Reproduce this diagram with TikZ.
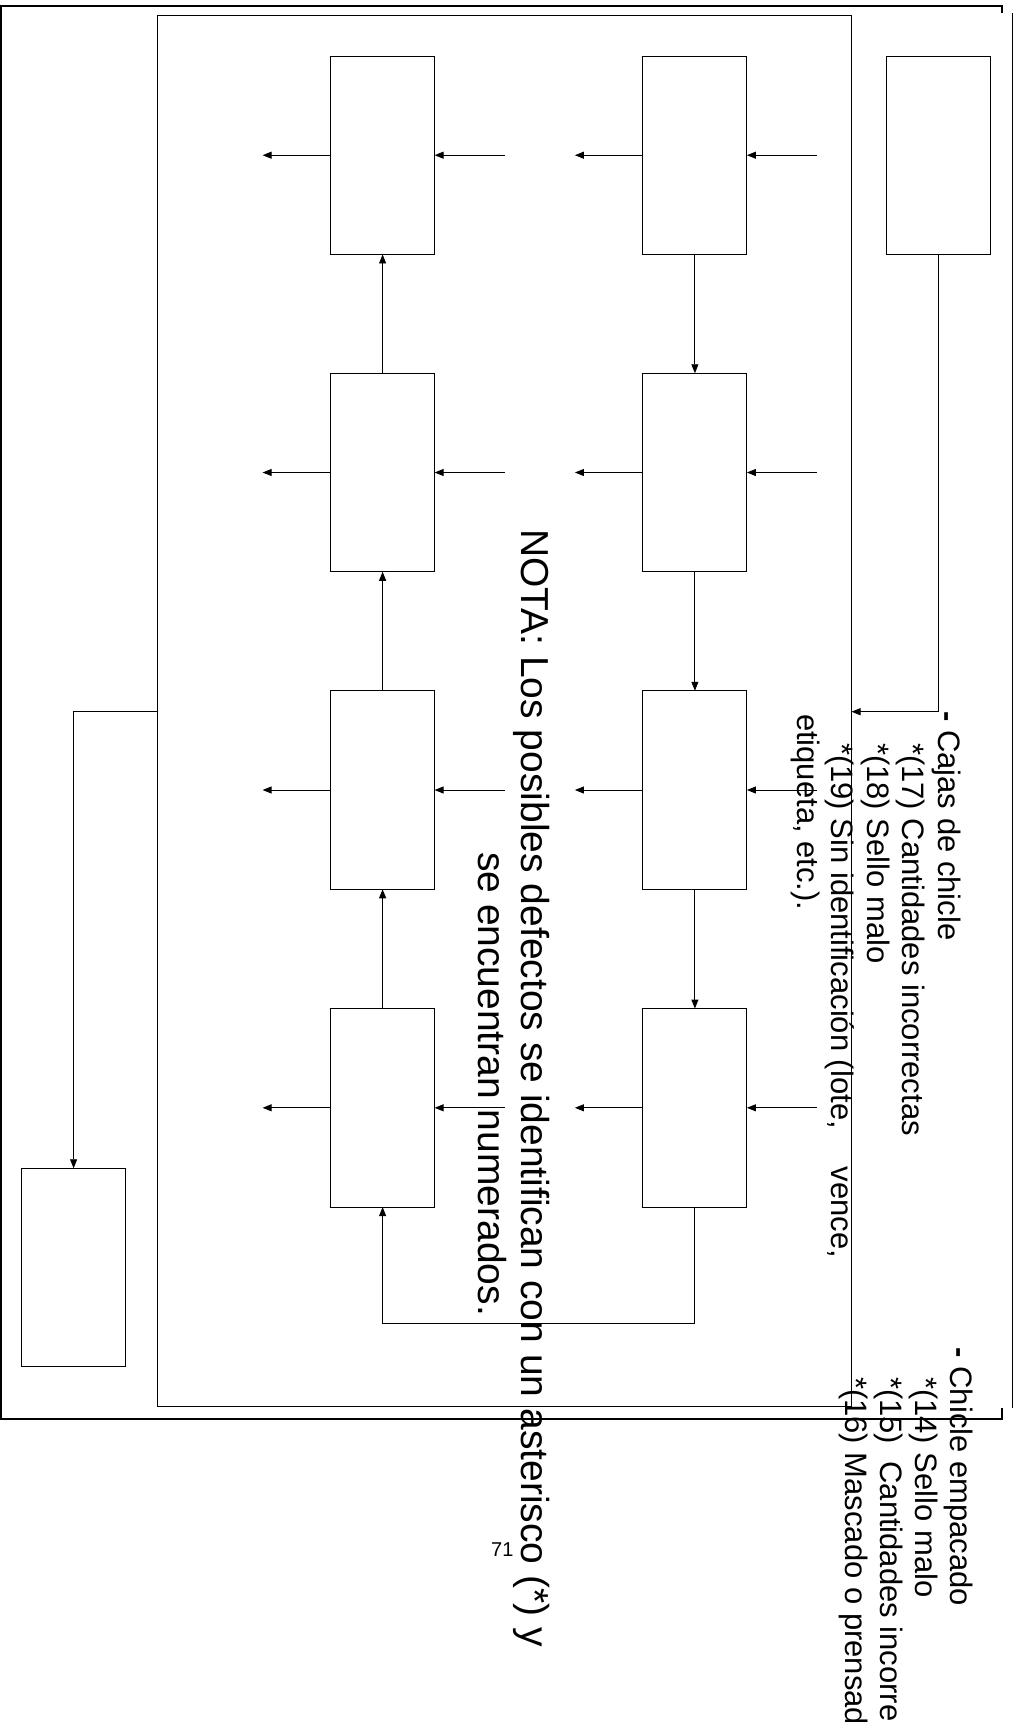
\documentclass[tikz,border=0pt]{standalone}
\usepackage{fontspec}
\setmainfont{Liberation Sans}
\usetikzlibrary{arrows.meta}
\begin{document}
\begin{tikzpicture}[x=1pt,y=-1pt,
  stage/.style={draw, line width=0.9pt, minimum width=104pt, minimum height=198.5pt,
    inner sep=0pt, outer sep=0pt},
  flow/.style={line width=0.9pt, -{Triangle[length=9pt,width=7pt]}},
  frameline/.style={line width=2pt},
  defect/.style={rotate=-90, anchor=base west, inner sep=0pt, outer sep=0pt,
    font=\fontsize{31}{35}\selectfont},
  nota/.style={rotate=-90, anchor=base, inner sep=0pt, outer sep=0pt,
    font=\fontsize{39}{45}\selectfont},
]
\useasboundingbox (0,0) rectangle (1018,1722);

% outer frame
\draw[frameline] (1002,13) -- (1002,5.5) -- (1,5.5) -- (1,1418.5) -- (1002,1418.5) -- (1002,1408);
\draw[line width=1pt] (1012,13) -- (1012,1408);

% plant area
\node[draw, line width=0.9pt, minimum width=693.9pt, minimum height=1391pt,
  inner sep=0pt, outer sep=0pt] (plant) at (504.5,711.2) {};

% process boxes: column A (upward flow), column B (downward flow)
\foreach \r/\yy in {1/155.2, 2/472.5, 3/790, 4/1107.8} {
  \node[stage] (A\r) at (382.6,\yy) {};
  \node[stage] (B\r) at (694.9,\yy) {};
  \coordinate (inA\r) at ([xshift=70pt]A\r.east);
  \coordinate (outA\r) at ([xshift=-68pt]A\r.west);
  \coordinate (inB\r) at ([xshift=70pt]B\r.east);
  \coordinate (outB\r) at ([xshift=-68pt]B\r.west);
  \draw[flow] (inA\r) -- (A\r.east);
  \draw[flow] (A\r.west) -- (outA\r);
  \draw[flow] (inB\r) -- (B\r.east);
  \draw[flow] (B\r.west) -- (outB\r);
}
\node[stage] (R) at (938.3,155.2) {};
\node[stage] (store) at (73.6,1267.5) {};

% vertical flow
\draw[flow] (B1.south) -- (B2.north);
\draw[flow] (B2.south) -- (B3.north);
\draw[flow] (B3.south) -- (B4.north);
\draw[flow] (A4.north) -- (A3.south);
\draw[flow] (A3.north) -- (A2.south);
\draw[flow] (A2.north) -- (A1.south);
\coordinate (loopR) at (694.9,1323);
\draw[flow] (B4.south) -- (loopR) -| (A4.south);

% supply and dispatch
\coordinate (inPlant) at (851.5,711.7);
\coordinate (outPlant) at (157.6,711.7);
\draw[flow] (R.south) |- (inPlant);
\draw[flow] (outPlant) -| (store.north);

% defect lists
\node[defect] (cajas) at (938,711.3) {\textbf{-} Cajas de chicle};
\node[defect] (c17) at (902,743) {*(17) Cantidades incorrectas};
\node[defect] (c18) at (867,743) {*(18) Sello malo};
\node[defect] (c19) at (831,743) {*(19) Sin identificación (lote,\hspace*{38pt}vence,};
\node[defect] (c19b) at (797,714) {etiqueta, etc.).};

\node[defect] (empac) at (950,1347.6) {\textbf{-} Chicle empacado};
\node[defect] (e14) at (915,1377) {*(14) Sello malo};
\node[defect] (e15) at (880,1377) {*(15)\ \ Cantidades incorrectas};
\node[defect] (e16) at (845,1377) {*(16) Mascado o prensado};

% note
\node[nota] (nota1) at (521,1088) {NOTA: Los posibles defectos se identifican con un asterisco (*) y};
\node[nota] (nota2) at (478,1084) {se encuentran numerados.};

% page number
\node[anchor=base west, inner sep=0pt, font=\fontsize{20}{22}\selectfont] (page) at (491,1556) {71};
\end{tikzpicture}
\end{document}
